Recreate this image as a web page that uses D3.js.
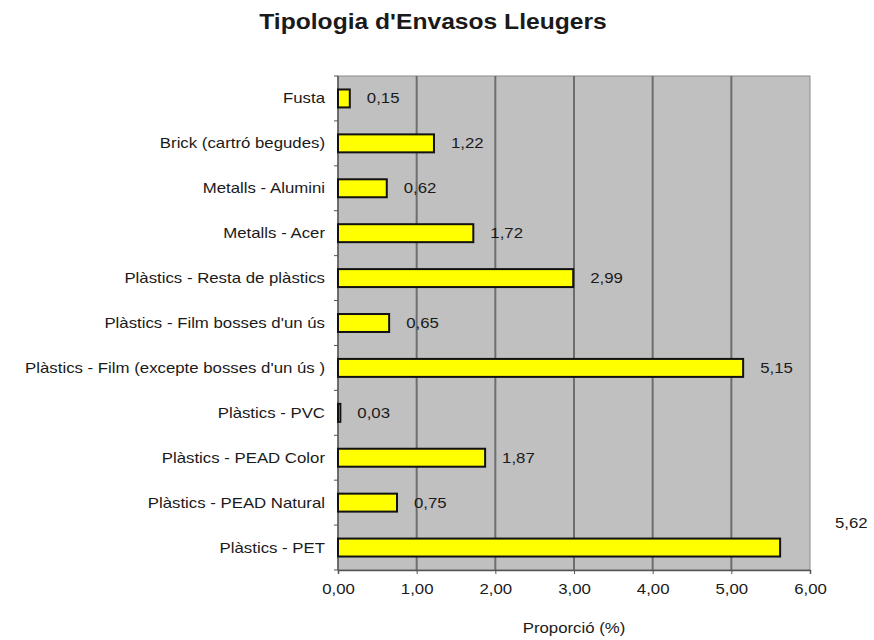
<!DOCTYPE html>
<html>
<head>
<meta charset="utf-8">
<script src="https://cdn.jsdelivr.net/npm/d3@7"></script>
<style>
  body { margin: 0; background: #fff; }
  text { font-family: "Liberation Sans", Arial, sans-serif; fill: #1a1a1a; }
</style>
</head>
<body>
<svg id="chart" width="874" height="640"></svg>
<script>
const title = "Tipologia d'Envasos Lleugers";
const axisTitle = "Proporció (%)";
const categories = [
  "Fusta",
  "Brick (cartró begudes)",
  "Metalls - Alumini",
  "Metalls - Acer",
  "Plàstics - Resta de plàstics",
  "Plàstics - Film bosses d'un ús",
  "Plàstics - Film (excepte bosses d'un ús )",
  "Plàstics - PVC",
  "Plàstics - PEAD Color",
  "Plàstics - PEAD Natural",
  "Plàstics - PET"
];
const values = [0.15, 1.22, 0.62, 1.72, 2.99, 0.65, 5.15, 0.03, 1.87, 0.75, 5.62];
const xTicks = [0, 1, 2, 3, 4, 5, 6];

const fmt = v => d3.format(".2f")(v).replace(".", ",");
const SX = 1.2; // horizontal text stretch of the reference

const svg = d3.select("#chart");
const plot = { left: 338, right: 810, top: 76, bottom: 570 };

const x = d3.scaleLinear().domain([0, 6]).range([plot.left, plot.right]);
const y = d3.scaleBand().domain(categories).range([plot.top, plot.bottom])
  .paddingInner(0.6).paddingOuter(0.3);

// plot background
svg.append("rect")
  .attr("x", plot.left).attr("y", plot.top)
  .attr("width", plot.right - plot.left).attr("height", plot.bottom - plot.top)
  .attr("fill", "#c0c0c0").attr("stroke", "#8a8a8a").attr("stroke-width", 1);

// gridlines
svg.append("g").selectAll("line").data(xTicks.slice(1, -1)).join("line")
  .attr("x1", d => x(d)).attr("x2", d => x(d))
  .attr("y1", plot.top).attr("y2", plot.bottom)
  .attr("stroke", "#6e6e6e").attr("stroke-width", 2);

// x axis
const xAxis = svg.append("g").attr("transform", `translate(0,${plot.bottom})`)
  .call(d3.axisBottom(x).tickValues(xTicks).tickSize(4).tickFormat(fmt));
xAxis.select(".domain").attr("stroke", "#555").attr("stroke-width", 1.5);
xAxis.selectAll(".tick line").attr("stroke", "#555");
xAxis.selectAll(".tick text")
  .attr("font-size", 14).attr("y", 0).attr("dy", 0)
  .attr("transform", `translate(0,24) scale(${SX},1)`)
  .style("font-family", "'Liberation Sans', Arial, sans-serif").attr("fill", "#1a1a1a");

// y axis line and ticks at band boundaries
const step = y.step();
const bounds = d3.range(categories.length + 1).map(i => plot.top + i * step);
svg.append("line")
  .attr("x1", plot.left).attr("x2", plot.left)
  .attr("y1", plot.top).attr("y2", plot.bottom)
  .attr("stroke", "#555").attr("stroke-width", 1.5);
svg.append("g").selectAll("line").data(bounds).join("line")
  .attr("x1", plot.left - 4).attr("x2", plot.left)
  .attr("y1", d => d).attr("y2", d => d)
  .attr("stroke", "#555").attr("stroke-width", 1);

// category labels
svg.append("g").selectAll("text").data(categories).join("text")
  .attr("transform", d => `translate(${plot.left - 13},${y(d) + y.bandwidth() / 2}) scale(${SX},1)`)
  .attr("text-anchor", "end").attr("dominant-baseline", "central")
  .attr("font-size", 14).text(d => d);

// bars
svg.append("g").selectAll("rect").data(values).join("rect")
  .attr("x", x(0))
  .attr("y", (d, i) => y(categories[i]))
  .attr("width", d => x(d) - x(0))
  .attr("height", y.bandwidth())
  .attr("fill", "#ffff00").attr("stroke", "#111").attr("stroke-width", 2);

// value labels
svg.append("g").selectAll("text").data(values).join("text")
  .each(function (d, i) {
    const cy = y(categories[i]) + y.bandwidth() / 2;
    let lx = x(d) + 17;
    let ly = cy;
    if (lx + 36 > plot.right) { lx = plot.right + 25; ly = cy - 25; }
    d3.select(this)
      .attr("transform", `translate(${lx},${ly}) scale(${SX},1)`)
      .attr("text-anchor", "start").attr("dominant-baseline", "central")
      .attr("font-size", 14).text(fmt(d));
  });

// title
svg.append("text")
  .attr("transform", `translate(433,29) scale(1.12,1)`)
  .attr("text-anchor", "middle").attr("font-size", 22).attr("font-weight", "bold")
  .text(title);

// axis title
svg.append("text")
  .attr("transform", `translate(${(plot.left + plot.right) / 2},633) scale(${SX},1)`)
  .attr("text-anchor", "middle").attr("font-size", 14)
  .text(axisTitle);
</script>
</body>
</html>
